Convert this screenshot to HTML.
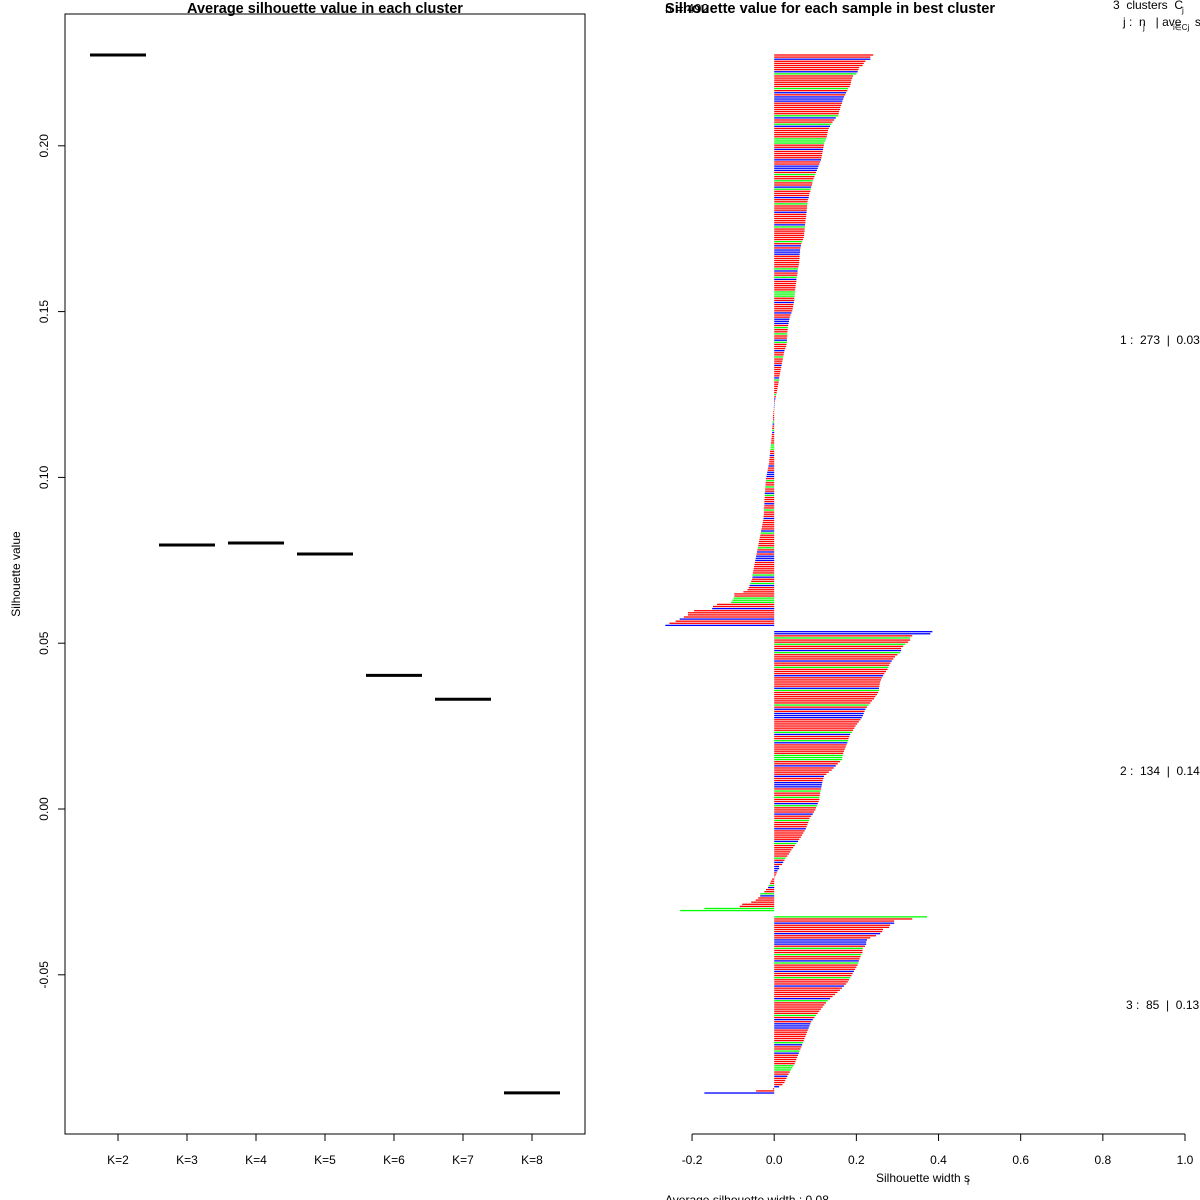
<!DOCTYPE html>
<html><head><meta charset="utf-8"><style>
html,body{margin:0;padding:0;background:#fff;}
svg{display:block;font-family:"Liberation Sans",Arial,sans-serif;}
svg text{white-space:pre;}
</style></head><body>
<svg id="chart" width="1200" height="1200" viewBox="0 0 1200 1200">
<g id="left"></g>
<g id="right"></g>
</svg>
<script>
// ---- Left chart data ----
const kLabels = ["K=2","K=3","K=4","K=5","K=6","K=7","K=8"];
const avgSil = [0.2274,0.0796,0.0802,0.0769,0.0403,0.0331,-0.0856];
const leftTicks = [-0.05,0.00,0.05,0.10,0.15,0.20];
const leftTickLabels = ["-0.05","0.00","0.05","0.10","0.15","0.20"];

// ---- Right chart data ----
const cluster1 = [.241,.234,.234,.222,.218,.215,.207,.205,.203,.200,
.192,.190,.188,.187,.186,.184,.180,.178,.175,.173,
.170,.168,.166,.165,.163,.161,.160,.158,.157,.156,
.150,.146,.142,.139,.136,.133,.131,.130,.129,.128,
.126,.124,.122,.121,.120,.119,.118,.117,.116,.115,
.114,.112,.110,.108,.106,.104,.102,.100,.098,.096,
.094,.093,.092,.090,.089,.088,.086,.085,.084,.082,
.081,.081,.080,.080,.079,.079,.078,.078,.077,.076,
.076,.075,.075,.074,.074,.073,.073,.072,.070,.068,
.066,.065,.064,.063,.063,.062,.062,.062,.061,.061,
.060,.059,.058,.057,.057,.056,.055,.054,.054,.053,
.052,.052,.051,.051,.050,.050,.049,.049,.048,.047,
.046,.045,.044,.042,.040,.038,.037,.036,.035,.034,
.033,.033,.032,.032,.032,.031,.031,.031,.030,.029,
.027,.025,.024,.023,.022,.021,.020,.019,.018,.017,
.016,.015,.014,.013,.012,.012,.011,.010,.009,.008,
.007,.006,.005,.004,.003,.002,.001,.000,-.001,-.001,
-.002,-.002,-.003,-.003,-.003,-.004,-.004,-.004,-.005,-.005,
-.005,-.006,-.006,-.007,-.007,-.008,-.008,-.009,-.009,-.010,
-.010,-.011,-.011,-.012,-.012,-.013,-.014,-.015,-.016,-.017,
-.018,-.019,-.020,-.020,-.021,-.021,-.022,-.022,-.022,-.023,
-.023,-.023,-.024,-.024,-.024,-.024,-.025,-.025,-.025,-.025,
-.026,-.026,-.027,-.028,-.029,-.030,-.031,-.032,-.033,-.034,
-.035,-.036,-.037,-.038,-.039,-.040,-.041,-.042,-.043,-.044,
-.045,-.046,-.047,-.048,-.049,-.050,-.051,-.052,-.053,-.053,
-.054,-.056,-.058,-.060,-.062,-.065,-.075,-.097,-.097,-.099,
-.102,-.105,-.139,-.149,-.151,-.195,-.210,-.210,-.220,-.230,
-.240,-.255,-.265];
const cluster2 = [.385,.380,.336,.331,.331,.326,.319,.314,.309,.309,
.306,.300,.294,.290,.286,.283,.280,.278,.276,.272,
.268,.265,.262,.260,.258,.257,.256,.255,.255,.253,
.250,.246,.243,.238,.234,.230,.226,.222,.220,.218,
.216,.213,.210,.206,.202,.198,.195,.192,.189,.185,
.183,.181,.180,.178,.176,.174,.172,.170,.168,.167,
.166,.165,.160,.155,.150,.145,.140,.133,.127,.121,
.120,.118,.117,.116,.115,.114,.113,.112,.111,.110,
.110,.108,.106,.104,.102,.100,.097,.094,.090,.086,
.085,.083,.081,.079,.077,.074,.071,.068,.065,.061,
.058,.054,.050,.046,.042,.039,.036,.032,.028,.025,
.022,.019,.012,.012,.008,.006,.004,.001,
-.005,-.008,-.010,-.013,-.015,-.020,-.024,-.034,-.034,-.039,-.045,-.056,-.078,-.084,-.170,-.229];
const cluster3 = [.372,.336,.292,.292,.282,.280,.265,.263,.258,.248,
.234,.226,.224,.224,.221,.216,.215,.215,.212,.210,
.208,.206,.205,.203,.200,.197,.194,.191,.188,.185,
.182,.179,.175,.170,.165,.160,.154,.148,.142,.136,
.130,.126,.122,.118,.114,.110,.106,.102,.098,.094,
.090,.088,.086,.084,.082,.080,.078,.076,.074,.072,
.070,.068,.066,.064,.062,.060,.058,.056,.054,.052,
.050,.047,.044,.041,.038,.035,.032,.030,.027,.025,
.020,.012,-.003,-.044,-.170];
const clusterSizes = ["273","134","85"];
const clusterAvgs = ["0.03","0.14","0.13"];
const sampleColors = "rrbrrrrrbgrrrrrrgrbrbbbrrrrrrgbrrgbrrrrrgggrrbrrrrbrrbbbrgrrgrrbgrrrbrrgr";
const rightTicks = [-0.2,0.0,0.2,0.4,0.6,0.8,1.0];
const rightTickLabels = ["-0.2","0.0","0.2","0.4","0.6","0.8","1.0"];

const NS = "http://www.w3.org/2000/svg";
function mk(parent, tag, attrs, text){
  const e = document.createElementNS(NS, tag);
  for (const k in attrs) e.setAttribute(k, attrs[k]);
  if (text !== undefined) e.textContent = text;
  parent.appendChild(e);
  return e;
}
const L = document.getElementById('left');
const R = document.getElementById('right');

// ---- Left axes ----
const yL = v => 809 - v * 3316;
const xL = i => 118 + 69 * i;
let e;
e = mk(L,'rect',{x:65,y:14,width:520,height:1120,fill:'none',stroke:'#000','stroke-width':1});


e = mk(L,'text',{x:325,y:13,'text-anchor':'middle','font-size':14.5,'font-weight':'bold'},'Average silhouette value in each cluster');


e = mk(L,'text',{x:20,y:574,'text-anchor':'middle','font-size':12,transform:'rotate(-90 20 574)'},'Silhouette value');


leftTicks.forEach((t,i)=>{
  const y = yL(t);
  const l = mk(L,'line',{x1:58,x2:65,y1:y,y2:y,stroke:'#000'});
  
  
  const tx = mk(L,'text',{x:48,y:y,'text-anchor':'middle','font-size':12,transform:`rotate(-90 48 ${y})`},leftTickLabels[i]);
  
  
});
kLabels.forEach((k,i)=>{
  const x = xL(i);
  const l = mk(L,'line',{x1:x,x2:x,y1:1134,y2:1141,stroke:'#000'});
  
  
  const tx = mk(L,'text',{x:x,y:1164,'text-anchor':'middle','font-size':12},k);
  
  
  const s = mk(L,'line',{x1:x-28,x2:x+28,y1:yL(avgSil[i]),y2:yL(avgSil[i]),stroke:'#000','stroke-width':3});
  
  
});

// ---- Right chart ----
const xR = v => 774.2 + v * 410.8;
const slotY = s => 55 + 2.097 * s;
const colorMap = {r:'#ff0000', b:'#0000ff', g:'#00ff00'};
const clusters = [cluster1, cluster2, cluster3];
let slot = 0, ci = 0;
const labelY = [];
clusters.forEach((vals, c)=>{
  const start = slot;
  vals.forEach(v=>{
    const y = slotY(slot);
    const x0 = xR(0), x1 = xR(v);
    const col = colorMap[sampleColors[ci % sampleColors.length]];
    const b = mk(R,'rect',{x:Math.min(x0,x1),y:y-0.65,width:Math.max(0.5,Math.abs(x1-x0)),height:1.3,fill:col});
    
    
    slot++; ci++;
  });
  labelY.push((slotY(start)+slotY(slot-1))/2);
  slot += 2;
});
e = mk(R,'line',{x1:xR(rightTicks[0]),x2:xR(rightTicks[rightTicks.length-1]),y1:1134,y2:1134,stroke:'#000'});


rightTicks.forEach((t,i)=>{
  const x = xR(t);
  const l = mk(R,'line',{x1:x,x2:x,y1:1134,y2:1141,stroke:'#000'});
  
  
  const tx = mk(R,'text',{x:x,y:1164,'text-anchor':'middle','font-size':12},rightTickLabels[i]);
  
  
});
e = mk(R,'text',{x:876,y:1182,'font-size':12},'Silhouette width s');


e = mk(R,'text',{x:967,y:1185,'font-size':9},'i');


e = mk(R,'text',{x:665,y:1204,'font-size':12},'Average silhouette width : 0.08');


e = mk(R,'text',{x:665,y:13,'font-size':14.6,'font-weight':'bold'},'Silhouette value for each sample in best cluster');


e = mk(R,'text',{x:665,y:13,'font-size':13},'n = 492');


e = mk(R,'text',{x:1113,y:9,'font-size':12},'3  clusters  C');


e = mk(R,'text',{x:1182,y:13,'font-size':8},'j');


e = mk(R,'text',{x:1123,y:26,'font-size':12},'j :  n   | ave    s');


e = mk(R,'text',{x:1143,y:30,'font-size':8},'j');


e = mk(R,'text',{x:1173,y:30,'font-size':8},'i∈Cj');


labelY.forEach((y,i)=>{
  const num = String(i+1);
  const txt = num + ' :  ' + clusterSizes[i] + '  |  ' + clusterAvgs[i];
  const tx = mk(R,'text',{x:i===2?1126:1120,y:y+4,'font-size':12},txt);
  
  
});
</script>
</body></html>
